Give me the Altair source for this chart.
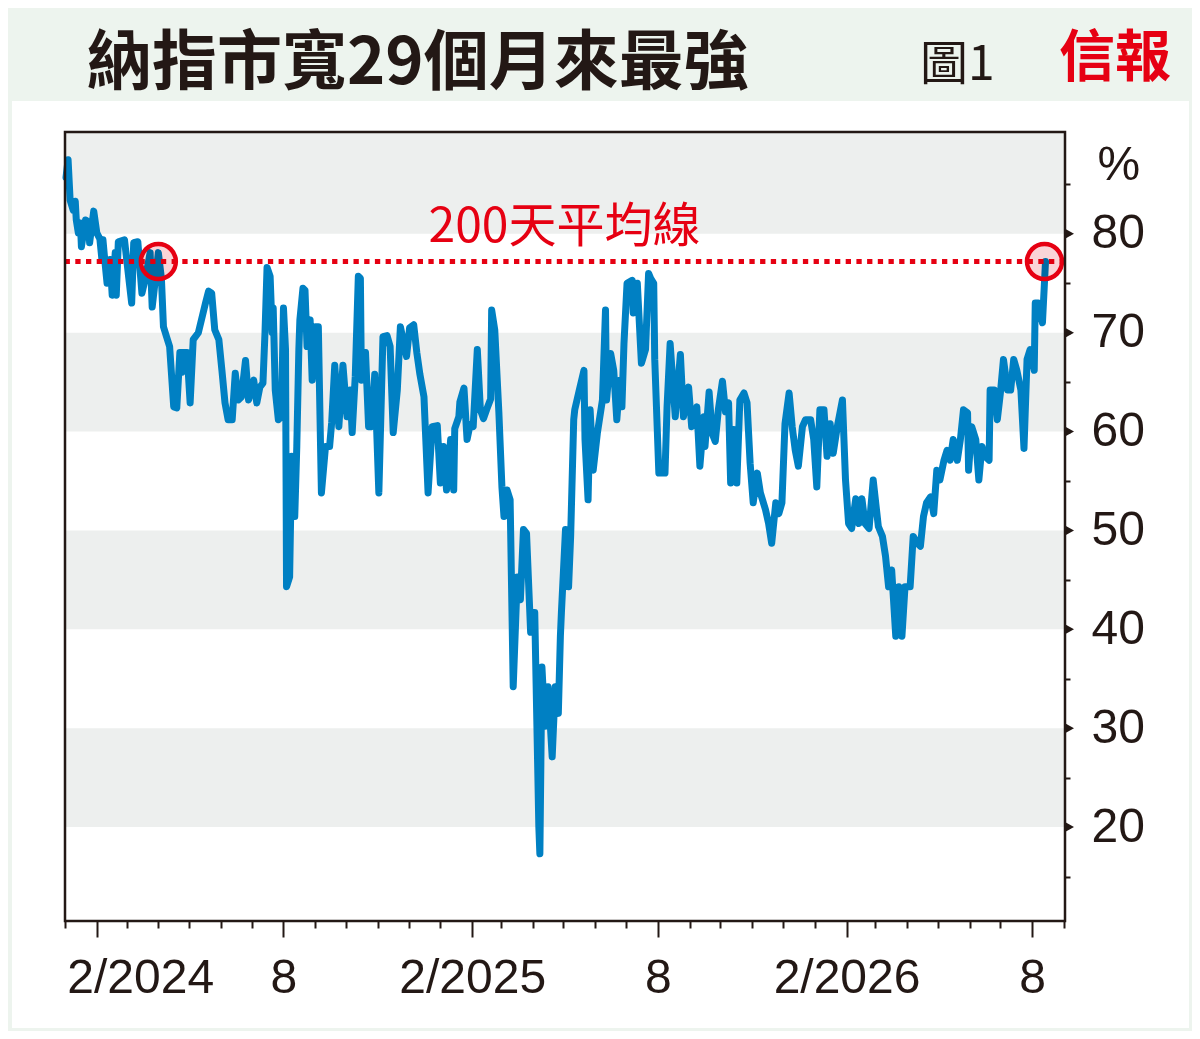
import altair as alt
import pandas as pd

# ---------------- data ----------------
dates = [
    "2024-01-02", "2024-01-04", "2024-01-06", "2024-01-09", "2024-01-11", "2024-01-12", "2024-01-14",
    "2024-01-16", "2024-01-17", "2024-01-21", "2024-01-24", "2024-01-25", "2024-01-29",
    "2024-02-01", "2024-02-04", "2024-02-06", "2024-02-07", "2024-02-09", "2024-02-11", "2024-02-14",
    "2024-02-16", "2024-02-19", "2024-02-20", "2024-02-22", "2024-02-28",
    "2024-03-03", "2024-03-06", "2024-03-08", "2024-03-12", "2024-03-16", "2024-03-19", "2024-03-24",
    "2024-03-26", "2024-03-29",
    "2024-04-01", "2024-04-04", "2024-04-06", "2024-04-09", "2024-04-12", "2024-04-16", "2024-04-19",
    "2024-04-22", "2024-04-24", "2024-04-25", "2024-04-29",
    "2024-05-02", "2024-05-05", "2024-05-10", "2024-05-17", "2024-05-20", "2024-05-23", "2024-05-26",
    "2024-05-30",
    "2024-06-02", "2024-06-05", "2024-06-08", "2024-06-12", "2024-06-15", "2024-06-18", "2024-06-21",
    "2024-06-25", "2024-06-28",
    "2024-07-03", "2024-07-06", "2024-07-09", "2024-07-12", "2024-07-14", "2024-07-16", "2024-07-19",
    "2024-07-21", "2024-07-22", "2024-07-24", "2024-07-27", "2024-07-30",
    "2024-08-01", "2024-08-03", "2024-08-04", "2024-08-07", "2024-08-09", "2024-08-12", "2024-08-14",
    "2024-08-16", "2024-08-17", "2024-08-20", "2024-08-22", "2024-08-24", "2024-08-27", "2024-08-29",
    "2024-09-01", "2024-09-04", "2024-09-07", "2024-09-11", "2024-09-15", "2024-09-17", "2024-09-20",
    "2024-09-24", "2024-09-28",
    "2024-10-02", "2024-10-05", "2024-10-07", "2024-10-10", "2024-10-13", "2024-10-15", "2024-10-16",
    "2024-10-20", "2024-10-23", "2024-10-26", "2024-10-29",
    "2024-11-02", "2024-11-06", "2024-11-10", "2024-11-13", "2024-11-16", "2024-11-20", "2024-11-23",
    "2024-11-29",
    "2024-12-02", "2024-12-06", "2024-12-09", "2024-12-12", "2024-12-16", "2024-12-20", "2024-12-24",
    "2024-12-29",
    "2025-01-01", "2025-01-04", "2025-01-07", "2025-01-11", "2025-01-14", "2025-01-15", "2025-01-19",
    "2025-01-20", "2025-01-24", "2025-01-27", "2025-01-30",
    "2025-02-02", "2025-02-06", "2025-02-09", "2025-02-12", "2025-02-15", "2025-02-19", "2025-02-20",
    "2025-02-23", "2025-02-27",
    "2025-03-02", "2025-03-04", "2025-03-07", "2025-03-10", "2025-03-13", "2025-03-17", "2025-03-20",
    "2025-03-23", "2025-03-26", "2025-03-30",
    "2025-04-02", "2025-04-03", "2025-04-07", "2025-04-08", "2025-04-10", "2025-04-13", "2025-04-16",
    "2025-04-20", "2025-04-23", "2025-04-26", "2025-04-28", "2025-04-29",
    "2025-05-03", "2025-05-06", "2025-05-08", "2025-05-11", "2025-05-12", "2025-05-16", "2025-05-21",
    "2025-05-22", "2025-05-25", "2025-05-27", "2025-05-30",
    "2025-06-03", "2025-06-08", "2025-06-11", "2025-06-12", "2025-06-16", "2025-06-19", "2025-06-22",
    "2025-06-25", "2025-06-27", "2025-06-29",
    "2025-07-02", "2025-07-07", "2025-07-08", "2025-07-12", "2025-07-16", "2025-07-20", "2025-07-23",
    "2025-07-25", "2025-07-28", "2025-07-29",
    "2025-08-02", "2025-08-05", "2025-08-08", "2025-08-10", "2025-08-13", "2025-08-18", "2025-08-23",
    "2025-08-26", "2025-08-31",
    "2025-09-03", "2025-09-08", "2025-09-11", "2025-09-15", "2025-09-16", "2025-09-20", "2025-09-23",
    "2025-09-26", "2025-09-29",
    "2025-10-03", "2025-10-06", "2025-10-09", "2025-10-11", "2025-10-14", "2025-10-17", "2025-10-20",
    "2025-10-24", "2025-10-27", "2025-10-30",
    "2025-11-02", "2025-11-06", "2025-11-09", "2025-11-14", "2025-11-17", "2025-11-20", "2025-11-24",
    "2025-11-27", "2025-11-30",
    "2025-12-03", "2025-12-07", "2025-12-10", "2025-12-13", "2025-12-16", "2025-12-20", "2025-12-23",
    "2025-12-28", "2025-12-31",
    "2026-01-03", "2026-01-06", "2026-01-10", "2026-01-13", "2026-01-16", "2026-01-19", "2026-01-23",
    "2026-01-28", "2026-01-31",
    "2026-02-03", "2026-02-06", "2026-02-10", "2026-02-13", "2026-02-16", "2026-02-19", "2026-02-23",
    "2026-02-27",
    "2026-03-04", "2026-03-08", "2026-03-11", "2026-03-14", "2026-03-17", "2026-03-21", "2026-03-24",
    "2026-03-27", "2026-03-30",
    "2026-04-04", "2026-04-07", "2026-04-11", "2026-04-14", "2026-04-17", "2026-04-20", "2026-04-24",
    "2026-04-27", "2026-04-30",
    "2026-05-03", "2026-05-07", "2026-05-10", "2026-05-13", "2026-05-16", "2026-05-20", "2026-05-23",
    "2026-05-26", "2026-05-30", "2026-05-31",
    "2026-06-03", "2026-06-07", "2026-06-10", "2026-06-13", "2026-06-16", "2026-06-20", "2026-06-21",
    "2026-06-25", "2026-06-28",
    "2026-07-01", "2026-07-04", "2026-07-08", "2026-07-11", "2026-07-14", "2026-07-17", "2026-07-21",
    "2026-07-24", "2026-07-27", "2026-07-30",
    "2026-08-03", "2026-08-04", "2026-08-07", "2026-08-11", "2026-08-14",
]

breadth = [
    85.7, 87.5, 83.4, 82.4, 83.3, 81.4, 80.1,
    81.1, 78.7, 81.4, 81.2, 79.1, 82.3,
    80.1, 79.5, 77.4, 79.4, 77.1, 75.0, 77.4,
    73.8, 78.1, 73.8, 79.2, 79.4,
    75.7, 73.0, 79.1, 79.2, 74.0, 75.3, 78.1,
    72.6, 75.3,
    78.1, 75.5, 70.6, 69.6, 68.6, 62.5, 62.4,
    68.0, 66.0, 68.0, 68.0,
    62.9, 69.3, 70.0, 73.0, 74.2, 74.0, 70.3,
    69.3,
    66.2, 62.9, 61.2, 61.2, 65.9, 63.2, 63.5,
    67.2, 63.2,
    65.2, 62.9, 64.5, 64.9, 70.0, 76.6, 75.7,
    70.0, 72.5, 64.2, 61.2, 61.5,
    72.5, 68.3, 44.3, 45.3, 57.5, 51.4, 58.5,
    68.3, 71.3, 74.5, 74.3, 68.6, 71.3, 65.2,
    70.6, 70.6, 53.8, 58.5, 58.5, 60.9, 66.7,
    60.5, 66.7,
    61.5, 64.2, 59.9, 65.6, 75.7, 75.5, 65.2,
    68.0, 60.5, 60.5, 65.8,
    53.8, 69.6, 69.7, 68.6, 59.9, 64.2, 70.6,
    67.6,
    70.5, 70.8, 68.0, 65.8, 63.5, 53.8, 60.5,
    60.6,
    54.8, 58.5, 54.1, 59.2, 54.1, 60.3, 61.5,
    63.0, 64.4, 59.2, 60.7,
    60.5, 68.3, 62.2, 61.3, 62.2, 63.3, 72.3,
    70.3, 62.0,
    54.4, 51.4, 54.1, 53.1, 34.2, 45.3, 43.0,
    50.1, 49.7, 39.7,
    41.7, 41.7, 20.0, 17.3, 36.2, 30.2, 34.2,
    27.1, 34.2, 31.5, 39.3, 41.7,
    50.1, 44.3, 49.4, 61.2, 62.2, 64.0, 66.2,
    59.2, 53.1, 62.2, 56.1,
    59.8, 63.2, 72.3, 63.2, 67.9, 66.2, 61.2,
    65.2, 62.5, 68.9,
    75.0, 75.3, 72.0, 75.0, 66.9, 68.3, 76.0,
    75.5, 75.0, 67.3,
    55.8, 55.8, 55.8, 62.5, 68.9, 61.5, 67.8,
    61.5, 64.5,
    60.5, 62.5, 56.5, 61.5, 58.5, 64.0, 59.8,
    59.0, 62.2,
    65.1, 62.0, 62.9, 54.8, 60.2, 54.8, 63.2,
    63.9, 62.9, 56.8,
    52.8, 55.8, 53.8, 52.1, 50.7, 48.7, 52.8,
    51.7, 52.8,
    60.8, 63.9, 60.5, 58.1, 56.5, 60.5, 61.2,
    61.2, 59.2,
    54.4, 62.2, 62.2, 57.5, 60.8, 57.8, 60.5,
    63.2, 55.1,
    50.7, 50.2, 53.2, 50.7, 53.2, 50.7, 50.2,
    55.1,
    50.4, 49.4, 47.4, 44.3, 46.0, 39.3, 44.3,
    39.3, 44.3,
    44.3, 49.4, 48.7, 48.4, 51.4, 52.8, 53.4,
    51.7, 56.1,
    55.1, 57.1, 58.1, 57.1, 59.2, 57.1, 59.2,
    62.2, 61.9, 56.1,
    60.5, 59.2, 55.1, 58.5, 57.5, 57.1, 64.2,
    64.2, 61.2,
    63.9, 67.3, 64.2, 64.2, 67.3, 66.2, 64.2,
    58.3, 67.3, 68.3,
    66.2, 73.0, 73.0, 71.0, 77.2,
]

band_lo = [20, 40, 60, 80]
band_hi = [30, 50, 70, 90.3]

ma200_value = [77.2]
ma200_label = ["200天平均線"]
ma200_label_date = ["2025-05-02"]
ma200_label_value = [79.2]

circle_dates = ["2024-04-01", "2026-08-13"]
circle_values = [77.2, 77.2]

y_tick_values = [15, 20, 25, 30, 35, 40, 45, 50, 55, 60, 65, 70, 75, 80, 85]
y_major_values = [20, 30, 40, 50, 60, 70, 80]

title_text = "納指市寬29個月來最強"
figure_text = "圖1"
brand_text = "信報"
unit_text = "%"

# ---------------- styles ----------------
INK = "#231815"
BLUE = "#0080c3"
RED = "#e60012"
PINK = "#f4a0a5"
BAND = "#edefee"
OUTER = "#edf4ee"
NUM_FONT = "Liberation Sans Narrow, Arial Narrow, Liberation Sans, sans-serif"
CJK_FONT = "Noto Sans CJK TC"
NUM_SIZE = 48

df_line = pd.DataFrame({"date": dates, "breadth": breadth})
df_bands = pd.DataFrame({"lo": band_lo, "hi": band_hi})
df_ma = pd.DataFrame({"ma": ma200_value})
df_lab = pd.DataFrame({"date": ma200_label_date, "v": ma200_label_value, "t": ma200_label})
df_circ = pd.DataFrame({"date": circle_dates, "v": circle_values})
df_tri = pd.DataFrame({"tv": y_major_values})
one = pd.DataFrame({"k": [0]})

x_scale = alt.Scale(
    type="utc",
    domain=[
        alt.DateTime(year=2024, month=1, date=1, utc=True),
        alt.DateTime(year=2026, month=9, date=2, utc=True),
    ],
)
y_scale = alt.Scale(domain=[10.5, 90.3], nice=False, zero=False)

is_major = "utcmonth(datum.value) == 1 || utcmonth(datum.value) == 7"
is_first = "utcyear(datum.value) == 2024 && utcmonth(datum.value) == 1"

x_axis = alt.Axis(
    title=None,
    orient="bottom",
    domain=False,
    grid=False,
    tickCount={"interval": "month", "step": 1},
    tickSize={"condition": {"test": is_major, "value": 16}, "value": 7},
    tickWidth=2,
    tickColor=INK,
    labelExpr="utcmonth(datum.value) == 1 ? '2/' + utcyear(datum.value) : (utcmonth(datum.value) == 7 ? '8' : '')",
    labelAlign={"condition": {"test": is_first, "value": "left"}, "value": "center"},
    labelOffset={"condition": {"test": is_first, "value": -30}, "value": 0},
    labelBaseline="top",
    labelPadding=17,
    labelFont=NUM_FONT,
    labelFontSize=NUM_SIZE,
    labelColor=INK,
    labelOverlap=False,
    labelFlush=False,
    labelBound=False,
    zindex=1,
)

y_axis = alt.Axis(
    orient="right",
    values=y_tick_values,
    title=unit_text,
    titleAngle=0,
    titleAlign="left",
    titleBaseline="alphabetic",
    titleX=32,
    titleY=47,
    titleFont=NUM_FONT,
    titleFontSize=NUM_SIZE,
    titleFontWeight="normal",
    titleColor=INK,
    domain=False,
    grid=False,
    tickSize=5,
    tickWidth=2,
    tickColor=INK,
    labelExpr="datum.value % 10 == 0 ? datum.label : ''",
    labelPadding=21,
    labelFont=NUM_FONT,
    labelFontSize=NUM_SIZE,
    labelColor=INK,
    labelAlign="left",
    labelBaseline="middle",
    labelOverlap=False,
    labelFlush=False,
    zindex=1,
)

X = lambda f: alt.X(f, type="temporal", scale=x_scale, axis=x_axis)
Y = lambda f: alt.Y(f, type="quantitative", scale=y_scale, axis=y_axis)

panel = alt.Chart(one).mark_rect(fill="white").encode(
    x=alt.value(-53), x2=alt.value(1124), y=alt.value(-31), y2=alt.value(896)
)

bands = alt.Chart(df_bands).mark_rect(fill=BAND).encode(
    x=alt.value(0), x2=alt.value("width"), y=Y("lo"), y2="hi:Q"
)

line = alt.Chart(df_line).mark_line(
    color=BLUE, strokeWidth=7, strokeJoin="round", strokeCap="round"
).encode(x=X("date"), y=Y("breadth"))

rule = alt.Chart(df_ma).mark_rule(
    color=RED, strokeWidth=5, strokeDash=[5.3, 5.4]
).encode(y=Y("ma"))

circ_fill = alt.Chart(df_circ).mark_point(
    shape="circle", filled=True, color=PINK, opacity=0.45, strokeWidth=0, size=1225, blend="multiply"
).encode(x=X("date"), y=Y("v"))

circ_ring = alt.Chart(df_circ).mark_point(
    shape="circle", filled=False, color=RED, opacity=1, strokeWidth=4.5, size=1225
).encode(x=X("date"), y=Y("v"))

ma_text = alt.Chart(df_lab).mark_text(
    font=CJK_FONT, fontSize=48, color=RED, align="center", baseline="alphabetic"
).encode(x=X("date"), y=Y("v"), text="t:N")

triangles = alt.Chart(df_tri).mark_point(
    shape="M 0 -1 L 1.8 0 L 0 1 Z", filled=True, color=INK, opacity=1, strokeWidth=0, size=100
).encode(x=alt.value(1000), y=Y("tv"))

frame = alt.Chart(one).mark_rect(
    fillOpacity=0, stroke=INK, strokeWidth=2.5
).encode(x=alt.value(0), x2=alt.value("width"), y=alt.value(0), y2=alt.value("height"))

title_mark = alt.Chart(one).mark_text(
    font=CJK_FONT, fontSize=65, fontWeight="bold", color=INK, align="left", baseline="alphabetic"
).encode(x=alt.value(22), y=alt.value(-48), text=alt.value(title_text))

figure_mark = alt.Chart(one).mark_text(
    font=CJK_FONT, fontSize=48, color=INK, align="left", baseline="alphabetic"
).encode(x=alt.value(855), y=alt.value(-52), text=alt.value(figure_text))

brand_mark = alt.Chart(one).mark_text(
    font=CJK_FONT, fontSize=56, fontWeight="bold", color=RED, align="center", baseline="alphabetic"
).encode(x=alt.value(1050), y=alt.value(-56), text=alt.value(brand_text))

chart = alt.layer(
    panel, bands, line, rule, circ_fill, circ_ring, ma_text, triangles, frame,
    title_mark, figure_mark, brand_mark,
).properties(
    width=1000,
    height=789,
    padding={"left": 57, "top": 124, "right": 127, "bottom": 110},
    autosize=alt.AutoSizeParams(type="none"),
    background=OUTER,
).configure_view(strokeWidth=0)

chart.save("out.html", embed_options={"renderer": "svg", "actions": False})
